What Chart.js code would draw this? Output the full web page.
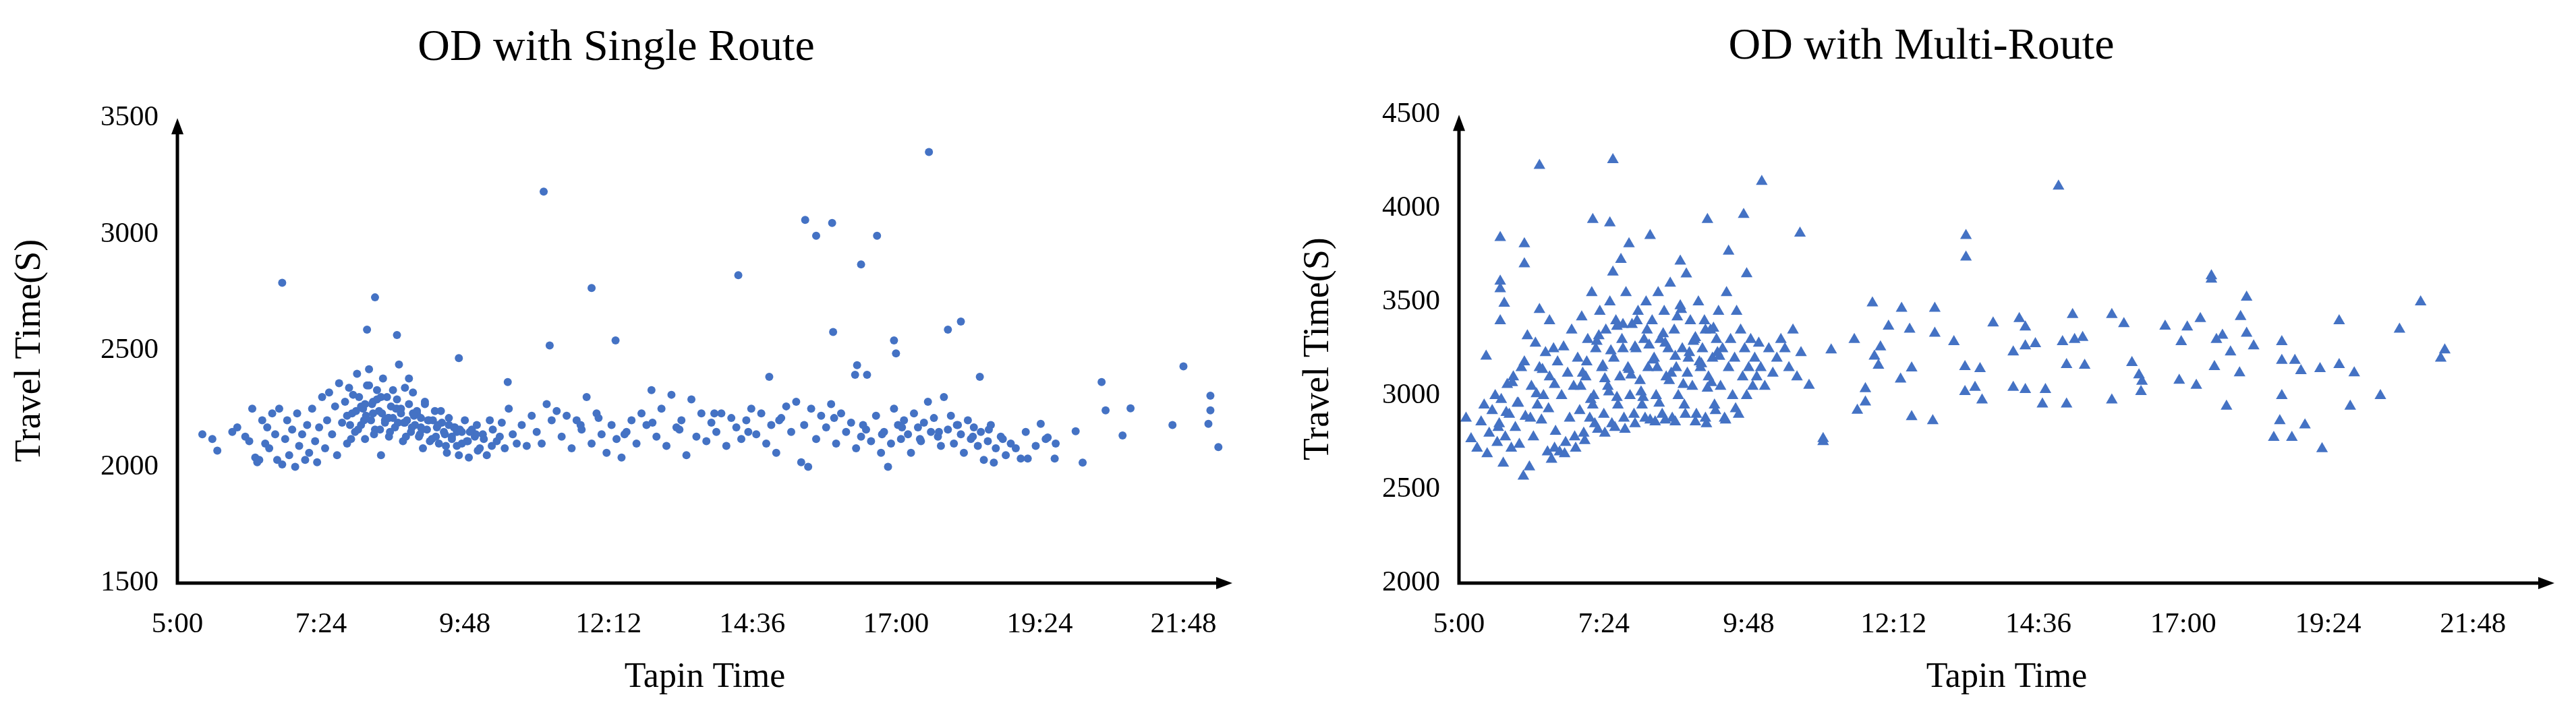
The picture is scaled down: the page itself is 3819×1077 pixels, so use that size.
<!DOCTYPE html>
<html>
<head>
<meta charset="utf-8">
<script src="https://cdn.jsdelivr.net/npm/chart.js@4/dist/chart.umd.min.js"></script>
<style>
  body{margin:0;background:#fff;width:3819px;height:1077px;overflow:hidden;display:flex}
  .box{width:1909px;height:1077px;position:relative}
</style>
</head>
<body>
<div class="box"><canvas id="single"></canvas></div>
<div class="box" style="margin-left:1px"><canvas id="multi"></canvas></div>
<script>
// x = tap-in time in minutes after midnight, y = travel time in seconds
const singleTimes=[667,1053,929,940,956,1001,985,862,715,405,498,490,520,673,739,582,957,1018,1020,1072,1085,1308,1335,1335,1226,1104,893,981,979,991,631,1297,1333,1343,1207,1179,1145,1152,1200,1165,1172,1230,1255,1247,1118,
325,335,340,355,360,368,372,375,378,380,382,385,388,390,392,395,398,400,402,405,408,410,412,415,418,420,422,425,428,430,432,435,438,440,442,445,448,450,452,455,458,460,462,465,468,470,472,475,478,480,482,484,486,488,490,492,494,496,498,500,502,504,506,508,510,512,514,516,518,520,522,524,526,528,530,532,534,536,538,540,542,544,546,548,550,552,555,558,560,562,565,568,570,572,575,578,580,582,585,588,590,592,595,598,600,603,606,610,613,616,620,625,628,632,636,640,645,650,655,660,665,670,675,680,685,690,695,700,705,710,715,720,725,730,735,740,745,750,755,760,765,770,775,780,785,790,795,800,805,810,815,820,825,830,835,840,845,850,855,860,865,870,875,880,885,890,895,900,905,910,915,920,925,928,932,935,940,945,950,955,960,965,970,975,980,985,990,995,1000,1005,1008,1012,1015,1018,1022,1025,1028,1032,1035,1038,1042,1045,1048,1052,1055,1058,1062,1065,1068,1072,1075,1078,1082,1085,1088,1092,1095,1098,1102,1105,1108,1112,1115,1120,1125,1130,1135,1140,1150,1160,1170,1180,
470,476,484,492,500,508,516,524,532,540,548,556,564,572,580,488,496,504,512,520,528,536,544,
473,479,487,495,503,511,519,527,535,543,551,559,567,575,583,591,599,607,615,623,
474,481,489,497,505,513,521,529,537,545,553,561,569,577,585,593,601,
704,722,748,776,803,838,872,903,958,987,1006,1026,1044,1063,1081,1097,1113,1127];
const singleValues=[3184,3354,3062,2994,3049,2994,2871,2824,2769,2792,2729,2590,2567,2522,2544,2468,2580,2544,2488,2590,2625,2432,2306,2243,2365,2387,2387,2437,2396,2396,2365,2180,2185,2085,2018,2036,2036,2036,2153,2185,2126,2243,2252,2135,2018,
2140,2120,2070,2150,2170,2130,2110,2250,2040,2020,2030,2200,2100,2170,2080,2230,2140,2030,2250,2010,2120,2200,2050,2160,2000,2230,2090,2140,2030,2180,2060,2250,2110,2020,2170,2300,2080,2200,2320,2140,2260,2050,2360,2190,2280,2100,2340,2230,2150,2400,2300,2180,2250,2120,2350,2420,2200,2280,2160,2330,2240,2050,2380,2190,2300,2130,2260,2210,2170,2290,2440,2230,2110,2340,2200,2270,2150,2320,2180,2240,2130,2210,2080,2280,2160,2200,2120,2240,2170,2100,2190,2140,2060,2210,2130,2170,2090,2050,2150,2200,2110,2040,2160,2130,2180,2080,2140,2050,2200,2160,2110,2190,2080,2250,2140,2100,2180,2090,2220,2150,2100,2270,2200,2240,2130,2220,2080,2200,2160,2300,2100,2230,2140,2060,2180,2120,2040,2150,2200,2100,2230,2180,2330,2130,2250,2090,2310,2170,2200,2050,2290,2130,2230,2110,2190,2150,2230,2090,2210,2170,2120,2200,2250,2140,2230,2100,2180,2060,2210,2260,2150,2280,2020,2180,2000,2250,2120,2220,2170,2270,2100,2230,2150,2190,2080,2130,2160,2110,2220,2060,2150,2000,2100,2250,2180,2120,2200,2140,2060,2230,2170,2110,2190,2280,2150,2210,2130,2090,2300,2160,2220,2100,2180,2140,2060,2200,2120,2170,2090,2150,2030,2110,2180,2080,2130,2050,2100,2080,2150,2090,2120,2100,
2220,2310,2260,2350,2290,2200,2330,2250,2380,2230,2270,2200,2240,2180,2150,2270,2230,2300,2210,2250,2190,2230,2170,
2180,2240,2200,2270,2160,2210,2250,2190,2170,2140,2200,2130,2150,2120,2160,2110,2140,2120,2090,2130,
2120,2160,2220,2140,2230,2150,2190,2130,2220,2160,2110,2180,2090,2170,2100,2150,2070,
2180,2210,2140,2190,2160,2230,2150,2200,2210,2180,2140,2170,2120,2150,2180,2130,2160,2120];

const multiTimes=[380,453,601,896,583,547,433,450,639,804,804,490,469,341,365,365,568,461,520,453,586,1048,1048,341,341,345,380,390,341,327,711,740,773,727,748,773,693,719,792,713,717,750,739,704,704,696,750,771,662,662,648,670,831,857,863,851,863,873,818,803,803,813,820,851,863,883,880,904,904,922,900,910,912,920,949,961,969,976,979,978,949,1002,1018,1024,1037,1016,1033,1051,1053,1059,1067,1077,1083,1083,1090,1076,1063,1118,1118,1131,1137,1118,1116,1110,1128,1141,1158,1156,1175,1175,1190,1186,1216,1235,1256,1280,1276,
307,312,318,322,325,328,330,333,336,338,340,342,344,346,348,350,352,354,356,358,360,362,364,366,368,370,372,374,376,378,380,382,384,386,388,390,392,394,396,398,400,402,404,406,408,410,412,414,416,418,420,422,424,426,428,430,432,434,436,438,440,442,444,446,448,450,452,454,456,458,460,462,464,466,468,470,472,474,476,478,480,482,484,486,488,490,492,494,496,498,500,502,504,506,508,510,512,514,516,518,520,522,524,526,528,530,532,534,536,538,540,542,544,546,548,550,552,554,556,558,560,562,564,566,568,570,572,574,576,578,580,582,584,586,588,590,592,594,596,598,600,604,608,612,616,620,624,628,632,636,640,
395,405,415,425,435,445,455,465,475,485,495,505,515,525,535,545,555,565,575,
421,427,433,439,445,451,457,463,469,475,481,487,493,499,505,511,517,523,529,535,541,547,553,559,
423,431,437,443,449,457,463,471,477,483,489,497,503,509,515,521,527,533,539,545,551,557,
339,347,353,359,365,371,377,383,389,395];
const multiValues=[4229,4260,4144,4118,3967,3940,3940,3922,3867,3855,3740,3855,3811,3844,3811,3704,3771,3727,3718,3660,3651,3640,3622,3611,3571,3493,3460,3400,3400,3211,3495,3466,3466,3371,3355,3333,3300,3260,3288,3211,3162,3148,3088,3037,2966,2922,2888,2866,2771,2755,3055,3244,3388,3411,3366,3233,3266,3277,3144,3155,3022,3044,2977,3044,3033,3033,2955,2955,3166,3162,3288,3433,3300,3311,3433,3384,3177,3111,3077,3022,2977,3371,3288,3366,3411,3082,3055,3155,3300,3322,3233,3422,3526,3333,3266,3122,2944,3288,3188,3188,3133,3000,2866,2777,2777,2844,2717,3144,3400,3166,3122,2944,3000,3355,3500,3244,3200,
2880,2770,2720,2860,2950,2690,2800,2920,3000,2750,2850,2980,2640,2780,3060,2900,2720,3100,2830,2960,2740,3150,2570,2890,3320,2620,3050,2780,3280,2950,3150,2870,3000,3230,2700,3100,2660,3250,2810,3180,2700,3000,3260,2750,3120,2880,3350,3050,2720,3200,2920,3420,2800,3100,3300,2880,3550,3000,3250,2820,3450,3150,2900,3350,3050,3500,2850,3200,3400,2950,3100,3300,2880,3550,3150,3000,3380,2900,3250,3450,3080,2950,3300,3500,3150,2870,3400,3200,3000,3550,3300,2900,3450,3100,3250,3600,2880,3350,3150,3000,3480,3250,2950,3650,3200,3400,3050,3300,2900,3500,3150,3250,3400,2850,3100,3350,3200,2950,3300,3450,3050,3250,2880,3550,3150,3300,3000,3200,3450,2900,3350,3100,3250,3000,3150,3300,3050,3200,3100,3280,3150,3050,3250,3120,3200,3300,3250,3150,3350,3100,3230,
2720,2690,2780,2760,2850,2800,2830,2820,2850,2880,2860,2870,2860,2900,2860,2880,2920,2870,2930,
3050,3180,2950,3320,3090,3240,2990,3380,3140,3260,3020,3350,3190,2960,3280,3120,3420,3060,3230,3310,3170,3040,3360,3210,
3120,2980,3290,3160,3020,3370,3250,3110,3400,2990,3270,3150,3330,3080,3210,3460,3120,3290,3180,3350,3070,3230,
2830,2910,3070,2960,3180,2880,3010,3140,2930,3060];

const xTickStart=300, xTickStep=144, xTickCount=8;
const yStep=500;
const blue='#4472C4';
const serif='"Liberation Serif","Times New Roman",serif';

function fmtTime(v){
  const h=Math.floor(v/60), m=Math.round(v%60);
  return h+':'+(m<10?'0'+m:m);
}

const arrowAxes={
  id:'arrowAxes',
  afterDraw(chart){
    const {ctx,chartArea:a}=chart;
    ctx.save();
    ctx.strokeStyle='#000';ctx.fillStyle='#000';ctx.lineWidth=5;
    ctx.beginPath();
    ctx.moveTo(a.left,a.top+18);ctx.lineTo(a.left,a.bottom);ctx.lineTo(a.right-18,a.bottom);
    ctx.stroke();
    ctx.beginPath();
    ctx.moveTo(a.left,a.top);ctx.lineTo(a.left-9,a.top+24);ctx.lineTo(a.left+9,a.top+24);ctx.closePath();ctx.fill();
    ctx.beginPath();
    ctx.moveTo(a.right,a.bottom);ctx.lineTo(a.right-24,a.bottom-9);ctx.lineTo(a.right-24,a.bottom+9);ctx.closePath();ctx.fill();
    ctx.restore();
  }
};

function makeChart(id,title,times,values,opt){
  return new Chart(document.getElementById(id),{
    type:'scatter',
    data:{datasets:[{
      data:times.map((t,i)=>({x:t,y:values[i]})),
      backgroundColor:blue,borderColor:blue,borderWidth:0,
      pointStyle:opt.style,pointRadius:opt.radius
    }]},
    options:{
      responsive:false,animation:false,
      layout:{padding:{left:0,right:opt.right,top:0,bottom:0}},
      plugins:{
        legend:{display:false},tooltip:{enabled:false},
        title:{display:true,text:title,color:'#000',font:{family:serif,size:66,weight:'normal'},padding:{top:opt.titleTop,bottom:opt.titleBottom}}
      },
      scales:{
        x:{type:'linear',min:300,max:opt.xmax,
          grid:{display:false,drawTicks:false},border:{display:false},
          afterBuildTicks(s){s.ticks=[];for(let i=0;i<xTickCount;i++)s.ticks.push({value:xTickStart+i*xTickStep});},
          ticks:{autoSkip:false,maxRotation:0,padding:36,color:'#000',font:{family:serif,size:43},callback:fmtTime},
          title:{display:true,text:'Tapin Time',color:'#000',font:{family:serif,size:52},padding:{top:0,bottom:40}},
          afterFit(s){s.height=212;}
        },
        y:{min:opt.ymin,max:opt.ymax,
          grid:{display:false,drawTicks:false},border:{display:false},
          ticks:{stepSize:yStep,padding:28,color:'#000',font:{family:serif,size:43},callback:v=>String(v)},
          title:{display:true,text:'Travel Time(S)',color:'#000',font:{family:serif,size:54},padding:{top:12,bottom:0}},
          afterFit(s){s.width=opt.yw;}
        }
      }
    },
    plugins:[arrowAxes]
  });
}

['single','multi'].forEach(id=>{const c=document.getElementById(id);c.width=1909;c.height=1077;});
makeChart('single','OD with Single Route',singleTimes,singleValues,
  {style:'circle',radius:6,xmax:1357,ymin:1500,ymax:3500,yw:263,right:82,titleTop:32,titleBottom:64});
makeChart('multi','OD with Multi-Route',multiTimes,multiValues,
  {style:'triangle',radius:10,xmax:1389,ymin:2000,ymax:4500,yw:253,right:32,titleTop:30,titleBottom:61});
</script>
</body>
</html>
